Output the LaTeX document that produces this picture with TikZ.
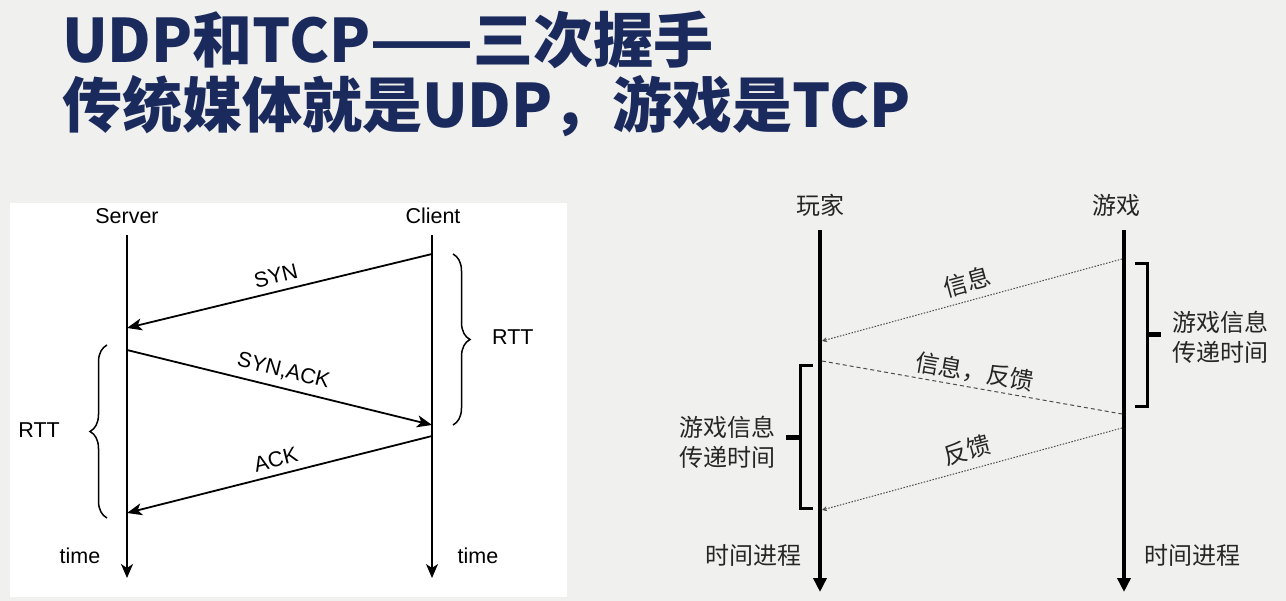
\documentclass[tikz,border=0pt]{standalone}
\usepackage{fontspec}
\setmainfont{Liberation Sans}
\newfontfamily\cjk{Noto Sans CJK SC}
\usepackage{tikz}
\usetikzlibrary{arrows.meta,positioning,decorations.pathreplacing}
\definecolor{titleblue}{HTML}{1B2A5C}
\definecolor{slidebg}{HTML}{F0F0EE}
\tikzstyle{title} = [font=\cjk\bfseries\fontsize{60}{64}\selectfont, text=titleblue, inner sep=0pt]
\tikzstyle{lbl} = [font=\fontsize{21.5}{24}\selectfont, inner sep=2pt]
\tikzstyle{cnlbl} = [font=\cjk\fontsize{24}{30}\selectfont, text=black!85, inner sep=2pt, align=center]
\tikzstyle{life} = [line width=1.5pt, -{Stealth[length=14pt,width=12pt,inset=4pt]}]
\tikzstyle{msg} = [line width=1.8pt, -{Stealth[length=15pt,width=12pt,inset=4pt]}]
\tikzstyle{lifeb} = [line width=3.5pt, -{Triangle[length=14pt,width=13pt]}]
\tikzstyle{dotmsg} = [line width=1pt, black!70, dash pattern=on 1.5pt off 1.5pt, -{Stealth[length=5pt,width=5pt]}]
\tikzstyle{dashmsg} = [line width=1pt, black!70, dash pattern=on 4pt off 3pt]
\tikzstyle{bracket} = [line width=3pt]
\tikzstyle{notch} = [line width=5pt]
\tikzstyle{rtt} = [decorate, decoration={brace, amplitude=17pt}, line width=1.5pt]

\begin{document}
\begin{tikzpicture}[x=1pt, y=-1pt]

\fill [slidebg] (0,0) rectangle (1286,601);
\useasboundingbox (0,0) rectangle (1286,601);

\node (title1) [title, anchor=base west] at (62,63) {UDP和TCP——三次握手};
\node (title2) [title, anchor=base west] at (62,128) {传统媒体就是UDP，游戏是TCP};

% left: TCP handshake
\fill [white] (10,203) rectangle (567,597);

\node (server) [lbl] at (127,216) {Server};
\node (client) [lbl] at (433,216) {Client};
\coordinate (srvtop) at (127,235);
\coordinate (srvbot) at (127,578);
\coordinate (clitop) at (432,235);
\coordinate (clibot) at (432,578);
\draw [life] (srvtop) -- (srvbot);
\draw [life] (clitop) -- (clibot);

\coordinate (c1) at (432,254);
\coordinate (s1) at (127,328);
\coordinate (s2) at (127,350);
\coordinate (c2) at (432,425);
\coordinate (c3) at (432,436);
\coordinate (s3) at (127,513);
\draw [msg] (c1) -- node[lbl, sloped, above=5pt] (syn) {SYN} (s1);
\draw [msg] (s2) -- node[lbl, sloped, above=5pt] (synack) {SYN,ACK} (c2);
\draw [msg] (c3) -- node[lbl, sloped, above=5pt] (ack) {ACK} (s3);

\draw [rtt] (453,254) -- (453,425);
\node (rttr) [lbl, anchor=west] at (490,337) {RTT};
\draw [rtt] (107,518) -- (107,345);
\node (rttl) [lbl, anchor=east] at (62,430) {RTT};

\node (stime) [lbl] at (80,556) {time};
\node (ctime) [lbl] at (478,556) {time};

% right: game
\node (player) [cnlbl] at (820,205) {玩家};
\node (game) [cnlbl] at (1116,205) {游戏};
\coordinate (pltop) at (820,230);
\coordinate (plbot) at (820,592);
\coordinate (gmtop) at (1124,230);
\coordinate (gmbot) at (1124,592);
\draw [lifeb] (pltop) -- (plbot);
\draw [lifeb] (gmtop) -- (gmbot);

\coordinate (g1) at (1122,259);
\coordinate (p1) at (822,341);
\coordinate (p2) at (822,361);
\coordinate (g2) at (1122,414);
\coordinate (g3) at (1122,428);
\coordinate (p3) at (822,510);
\draw [dotmsg] (g1) -- node[cnlbl, sloped, above=5pt] (info) {信息} (p1);
\draw [dashmsg] (p2) -- node[cnlbl, sloped, above=2pt] (infofb) {信息，反馈} (g2);
\draw [dotmsg] (g3) -- node[cnlbl, sloped, above=6pt] (fb) {反馈} (p3);

\draw [bracket] (1135,264) -- (1147,264) -- (1147,407) -- (1135,407);
\draw [notch] (1147,335) -- (1161,335);
\node (gdelay) [cnlbl] at (1220,337) {游戏信息\\传递时间};
\draw [bracket] (813,366) -- (800,366) -- (800,509) -- (813,509);
\draw [notch] (800,438) -- (786,438);
\node (pdelay) [cnlbl] at (727,442) {游戏信息\\传递时间};

\node (ptime) [cnlbl] at (753,555) {时间进程};
\node (gtime) [cnlbl] at (1192,555) {时间进程};

\end{tikzpicture}
\end{document}
